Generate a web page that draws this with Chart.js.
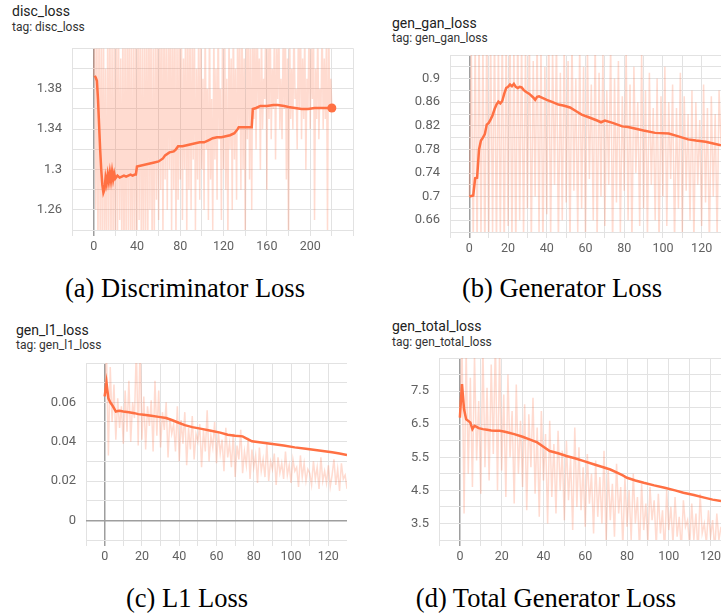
<!DOCTYPE html>
<html>
<head>
<meta charset="utf-8">
<script src="https://cdn.jsdelivr.net/npm/chart.js@4.4.1/dist/chart.umd.min.js"></script>
<style>
  body { margin: 0; width: 721px; height: 613px; background: #fff; position: relative; overflow: hidden; font-family: Roboto, sans-serif; }
  .title { position: absolute; font-size: 14px; line-height: 16px; color: #212121; white-space: nowrap; }
  .tag { position: absolute; font-size: 12px; line-height: 14px; color: #333; white-space: nowrap; }
  .caption { position: absolute; width: 400px; text-align: center; font-family: 'Liberation Serif', serif; font-size: 26.5px; line-height: 30px; color: #000; white-space: nowrap; }
  canvas { position: absolute; }
</style>
</head>
<body>
<div class="title" style="left:12px;top:3px">disc_loss</div>
<div class="tag" style="left:12px;top:20px">tag: disc_loss</div>
<canvas id="discChart" width="346" height="216" style="left:12px;top:44px"></canvas>
<div class="caption" style="left:-15px;top:273px">(a) Discriminator Loss</div>

<div class="title" style="left:392px;top:15px">gen_gan_loss</div>
<div class="tag" style="left:392px;top:31px">tag: gen_gan_loss</div>
<canvas id="ganChart" width="331" height="207" style="left:390px;top:55px"></canvas>
<div class="caption" style="left:362px;top:273px">(b) Generator Loss</div>

<div class="title" style="left:16px;top:322px">gen_l1_loss</div>
<div class="tag" style="left:16px;top:338px">tag: gen_l1_loss</div>
<canvas id="l1Chart" width="321" height="207" style="left:26px;top:363px"></canvas>
<div class="caption" style="left:-13px;top:583px">(c) L1 Loss</div>

<div class="title" style="left:392px;top:318px">gen_total_loss</div>
<div class="tag" style="left:392px;top:335px">tag: gen_total_loss</div>
<canvas id="totalChart" width="342" height="212" style="left:379px;top:358px"></canvas>
<div class="caption" style="left:346px;top:583px">(d) Total Generator Loss</div>

<script>
// raw values are logged once per step, starting at step 0
const discRawValues = [
  1.392, 1.45, 1.26, 1.44, 1.21, 1.46, 1.23, 1.43, 1.20, 1.47,
  1.22, 1.40, 1.19, 1.45, 1.24, 1.46, 1.21, 1.43, 1.22, 1.44,
  1.20, 1.47, 1.23, 1.45, 1.25, 1.41, 1.21, 1.46, 1.19, 1.44,
  1.22, 1.45, 1.24, 1.48, 1.21, 1.43, 1.20, 1.46, 1.23, 1.44,
  1.21, 1.47, 1.25, 1.45, 1.22, 1.43, 1.20, 1.46, 1.24, 1.44,
  1.22, 1.48, 1.26, 1.45, 1.21, 1.42, 1.23, 1.46, 1.27, 1.44,
  1.25, 1.47, 1.28, 1.45, 1.23, 1.46, 1.29, 1.43, 1.26, 1.45,
  1.30, 1.47, 1.24, 1.44, 1.28, 1.46, 1.22, 1.43, 1.27, 1.45,
  1.29, 1.46, 1.25, 1.41, 1.30, 1.47, 1.23, 1.44, 1.28, 1.45,
  1.26, 1.43, 1.31, 1.46, 1.24, 1.40, 1.29, 1.45, 1.27, 1.44,
  1.30, 1.39, 1.26, 1.45, 1.32, 1.38, 1.25, 1.46, 1.29, 1.37,
  1.24, 1.44, 1.31, 1.40, 1.27, 1.46, 1.33, 1.38, 1.25, 1.43,
  1.30, 1.45, 1.28, 1.39, 1.22, 1.44, 1.32, 1.41, 1.26, 1.46,
  1.31, 1.40, 1.27, 1.45, 1.34, 1.43, 1.28, 1.46, 1.30, 1.41,
  1.23, 1.44, 1.33, 1.47, 1.29, 1.42, 1.26, 1.45, 1.35, 1.43,
  1.32, 1.46, 1.36, 1.41, 1.30, 1.44, 1.34, 1.39, 1.37, 1.45,
  1.28, 1.43, 1.35, 1.46, 1.33, 1.40, 1.36, 1.44, 1.31, 1.42,
  1.37, 1.45, 1.34, 1.39, 1.33, 1.43, 1.36, 1.46, 1.29, 1.41,
  1.22, 1.44, 1.35, 1.40, 1.34, 1.45, 1.37, 1.38, 1.32, 1.43,
  1.36, 1.46, 1.33, 1.41, 1.35, 1.44, 1.30, 1.39, 1.36, 1.45,
  1.34, 1.42, 1.37, 1.46, 1.25, 1.40, 1.35, 1.44, 1.33, 1.38,
  1.36, 1.45, 1.34, 1.41, 1.35, 1.43, 1.24, 1.46, 1.36, 1.39,
  1.361
];
const discSmoothSteps = [
  1, 2, 3, 4, 5, 6, 7, 8, 9, 10, 11, 12, 13, 14, 15, 16, 17, 18, 19, 20,
  22, 24, 26, 28, 30, 32, 34, 36, 38, 39, 40,
  44, 48, 52, 56, 60, 64, 66, 70, 74, 76, 78,
  82, 86, 90, 94, 98, 102, 106, 110, 114, 118, 122, 126, 130,
  133, 134, 140, 146, 147,
  150, 154, 160, 166, 170, 176, 180, 186, 192, 198, 204, 210, 216, 220
];
const discSmoothValues = [
  1.393, 1.391, 1.388, 1.37, 1.345, 1.32, 1.30, 1.285, 1.277, 1.28,
  1.292, 1.286, 1.295, 1.288, 1.297, 1.289, 1.298, 1.29, 1.296, 1.291,
  1.294, 1.292, 1.293, 1.294, 1.293, 1.294, 1.295, 1.294, 1.295, 1.295, 1.303,
  1.304, 1.305, 1.306, 1.307, 1.308, 1.311, 1.314, 1.317, 1.318, 1.32, 1.323,
  1.323, 1.324, 1.325, 1.326, 1.327, 1.327, 1.329, 1.331, 1.332, 1.332, 1.333, 1.334, 1.336,
  1.34, 1.342, 1.342, 1.342, 1.36,
  1.361, 1.363, 1.363, 1.364, 1.364, 1.363, 1.362, 1.361, 1.36, 1.36, 1.361, 1.361, 1.361, 1.361
];

const ganRawValues = [
  0.70, 0.95, 0.62, 0.97, 0.61, 0.98, 0.63, 0.96, 0.60, 0.99,
  0.62, 0.97, 0.64, 0.98, 0.61, 0.96, 0.63, 0.99, 0.60, 0.97,
  0.65, 0.98, 0.62, 0.96, 0.61, 0.99, 0.66, 0.97, 0.63, 0.95,
  0.68, 0.98, 0.62, 0.93, 0.70, 0.97, 0.64, 0.96, 0.61, 0.92,
  0.67, 0.98, 0.63, 0.95, 0.72, 0.97, 0.62, 0.91, 0.66, 0.96,
  0.69, 0.93, 0.61, 0.97, 0.71, 0.90, 0.64, 0.96, 0.68, 0.92,
  0.63, 0.95, 0.73, 0.89, 0.66, 0.97, 0.62, 0.91, 0.70, 0.94,
  0.65, 0.88, 0.72, 0.96, 0.61, 0.90, 0.69, 0.93, 0.64, 0.87,
  0.71, 0.95, 0.66, 0.89, 0.62, 0.92, 0.74, 0.86, 0.65, 0.94,
  0.68, 0.88, 0.63, 0.91, 0.72, 0.85, 0.66, 0.90, 0.61, 0.87,
  0.70, 0.92, 0.65, 0.86, 0.73, 0.89, 0.62, 0.85, 0.68, 0.91,
  0.64, 0.87, 0.71, 0.84, 0.66, 0.88, 0.62, 0.86, 0.72, 0.83,
  0.65, 0.89, 0.69, 0.85, 0.61, 0.87, 0.70, 0.84, 0.63, 0.88,
  0.79
];
const ganSmoothSteps = [
  0, 1, 2, 3, 4, 5, 6, 7, 8, 9, 10, 11, 12, 13, 14, 15, 16, 17, 18, 19,
  20, 21, 22, 23, 24, 25, 26, 27, 28, 29,
  31, 33, 34, 35, 36, 38, 40,
  43, 46, 49, 52, 55, 58,
  62, 66, 68, 70, 74, 79,
  82, 86, 90, 96, 103, 108, 113, 117, 122, 126, 130
];
const ganSmoothValues = [
  0.700, 0.701, 0.702, 0.731, 0.732, 0.780, 0.795, 0.800, 0.806, 0.822,
  0.825, 0.831, 0.838, 0.848, 0.856, 0.861, 0.858, 0.862, 0.874, 0.884,
  0.886, 0.890, 0.887, 0.891, 0.886, 0.884, 0.886, 0.885, 0.881, 0.878,
  0.874, 0.868, 0.864, 0.869, 0.870, 0.867, 0.864,
  0.860, 0.856, 0.854, 0.851, 0.845, 0.839,
  0.834, 0.829, 0.826, 0.829, 0.825, 0.819,
  0.818, 0.815, 0.812, 0.808, 0.807, 0.802, 0.797, 0.795, 0.793, 0.790, 0.787
];

const l1RawValues = [
  0.063, 0.085, 0.033, 0.078, 0.050, 0.069, 0.041, 0.062, 0.047, 0.058,
  0.039, 0.066, 0.045, 0.071, 0.040, 0.060, 0.052, 0.088, 0.038, 0.090,
  0.041, 0.063, 0.036, 0.058, 0.048, 0.061, 0.035, 0.071, 0.043, 0.066,
  0.037, 0.055, 0.046, 0.060, 0.032, 0.052, 0.044, 0.049, 0.035, 0.058,
  0.030, 0.051, 0.039, 0.055, 0.028, 0.047, 0.036, 0.053, 0.031, 0.044,
  0.040, 0.049, 0.027, 0.046, 0.035, 0.056, 0.030, 0.043, 0.037, 0.050,
  0.029, 0.045, 0.034, 0.041, 0.025, 0.047, 0.032, 0.039, 0.027, 0.044,
  0.022, 0.038, 0.031, 0.046, 0.024, 0.035, 0.028, 0.042, 0.021, 0.036,
  0.027, 0.033, 0.019, 0.037, 0.025, 0.031, 0.022, 0.039, 0.020, 0.030,
  0.026, 0.034, 0.018, 0.032, 0.024, 0.029, 0.021, 0.035, 0.023, 0.028,
  0.019, 0.031, 0.025, 0.027, 0.017, 0.033, 0.022, 0.029, 0.020, 0.026,
  0.024, 0.018, 0.030, 0.021, 0.027, 0.016, 0.032, 0.020, 0.025, 0.019,
  0.028, 0.017, 0.023, 0.031, 0.018, 0.026, 0.015, 0.029, 0.021, 0.023,
  0.016
];
const l1SmoothSteps = [
  0, 1, 2, 3, 4, 5, 6, 7, 8,
  10, 13, 16, 18, 21, 25, 29, 33, 36, 40,
  43, 47, 52, 57, 62, 66, 70, 74, 77, 79,
  84, 90, 96, 102, 109, 116, 122, 126, 130
];
const l1SmoothValues = [
  0.063, 0.070, 0.062, 0.060, 0.0587, 0.057, 0.0553, 0.0556, 0.0557,
  0.0553, 0.055, 0.0545, 0.054, 0.0537, 0.0532, 0.0526, 0.052, 0.051, 0.0495,
  0.0484, 0.0474, 0.0465, 0.0456, 0.0446, 0.0435, 0.043, 0.0427, 0.0412, 0.0402,
  0.0396, 0.0388, 0.038, 0.0371, 0.0363, 0.0354, 0.0346, 0.034, 0.0332
];

const totalRawValues = [
  6.7, 9.0, 3.8, 8.8, 5.0, 7.9, 4.6, 8.6, 5.4, 7.2,
  4.4, 8.9, 5.2, 7.6, 4.8, 8.3, 5.6, 9.1, 4.5, 8.7,
  5.1, 7.4, 4.3, 8.0, 5.5, 6.9, 4.1, 7.7, 5.0, 6.6,
  4.6, 7.1, 3.9, 6.8, 5.2, 7.3, 4.4, 6.4, 3.7, 6.9,
  4.8, 6.2, 3.5, 6.6, 4.3, 5.9, 3.8, 6.3, 4.5, 5.7,
  3.6, 6.0, 4.2, 5.5, 3.3, 6.4, 4.0, 5.8, 3.9, 5.2,
  3.4, 5.6, 4.1, 5.0, 3.2, 5.4, 3.7, 4.9, 3.5, 5.7,
  2.9, 5.1, 3.6, 4.7, 3.1, 5.3, 3.8, 4.6, 2.8, 4.9,
  3.4, 4.5, 3.0, 5.0, 3.5, 4.3, 2.7, 4.7, 3.3, 4.1,
  2.9, 4.6, 3.6, 4.2, 2.8, 4.4, 3.2, 3.9, 2.6, 4.5,
  3.3, 4.0, 2.9, 4.3, 3.1, 3.7, 2.7, 4.2, 3.4, 3.6,
  2.8, 4.1, 3.0, 3.8, 2.6, 4.4, 3.2, 3.5, 2.9, 3.9,
  3.1, 3.6, 2.7, 3.8, 3.0, 3.4
];
const totalSmoothSteps = [
  0, 1, 2, 3, 4, 5, 6, 7, 8, 9,
  11, 13, 15, 17, 19, 21, 23, 26, 30,
  33, 37, 40, 43, 47, 51, 55, 59, 64, 69,
  72, 75, 78, 80, 84, 88, 93, 98, 103, 107,
  112, 117, 121, 125
];
const totalSmoothValues = [
  6.7, 7.71, 6.95, 6.65, 6.6, 6.55, 6.35, 6.45, 6.42, 6.38,
  6.35, 6.33, 6.31, 6.3, 6.3, 6.28, 6.25, 6.2, 6.12,
  6.05, 5.95, 5.82, 5.69, 5.62, 5.54, 5.47, 5.39, 5.29, 5.19,
  5.13, 5.04, 4.95, 4.88, 4.8, 4.73, 4.65, 4.58, 4.5, 4.43,
  4.36, 4.28, 4.22, 4.18
];

const ORANGE = '#ff7043';
const RAW = 'rgba(255,112,67,0.25)';
const GRID = '#e2e2e2';
const ZERO = '#9e9e9e';
const TICK = '#616161';

function points(steps, values) {
  return values.map((v, i) => ({ x: steps[i], y: v }));
}
function rawPoints(values) {
  return values.map((v, i) => ({ x: i, y: v }));
}
function fmt(v) {
  return String(Number(v.toFixed(4)));
}
const isZero = c => c.tick && Math.abs(c.tick.value) < 1e-9;

function drawPanel(id, p) {
  const smooth = points(p.steps, p.values);
  const last = smooth.length - 1;
  new Chart(document.getElementById(id), {
    type: 'line',
    data: {
      datasets: [
        {
          data: smooth,
          borderColor: ORANGE,
          borderWidth: 2.5,
          tension: 0,
          pointRadius: c => (p.endDot && c.dataIndex === last) ? 4.5 : 0,
          pointBackgroundColor: ORANGE,
          pointBorderWidth: 0
        },
        {
          data: rawPoints(p.raw),
          borderColor: RAW,
          borderWidth: 1.5,
          tension: 0,
          pointRadius: 0,
          clip: 0
        }
      ]
    },
    options: {
      responsive: false,
      animation: false,
      events: [],
      layout: { padding: 0 },
      plugins: { legend: { display: false }, tooltip: { enabled: false } },
      scales: {
        x: {
          type: 'linear',
          min: p.xMin,
          max: p.xMax,
          afterFit: s => { s.height = 30; s.paddingLeft = 0; s.paddingRight = 0; },
          border: { display: false },
          grid: {
            color: c => isZero(c) ? ZERO : GRID,
            lineWidth: c => isZero(c) ? 1.5 : 1,
            tickLength: 6
          },
          ticks: {
            stepSize: p.xStep,
            includeBounds: p.xBounds !== false,
            autoSkip: false,
            maxRotation: 0,
            padding: 3,
            color: TICK,
            font: { family: 'Roboto', size: 12.5 },
            callback: v => p.xLabel(v) ? String(v) : ''
          }
        },
        y: {
          min: p.yMin,
          max: p.yMax,
          afterFit: s => { s.width = 60; s.paddingTop = 0; s.paddingBottom = 0; },
          border: { display: false },
          grid: {
            color: c => isZero(c) ? ZERO : GRID,
            lineWidth: c => isZero(c) ? 1.5 : 1,
            drawTicks: false
          },
          ticks: {
            stepSize: p.yStep,
            autoSkip: false,
            padding: 10,
            color: TICK,
            font: { family: 'Roboto', size: 13 },
            callback: v => p.yLabel(v) ? fmt(v) : ''
          }
        }
      }
    }
  });
}

drawPanel('discChart', {
  raw: discRawValues, steps: discSmoothSteps, values: discSmoothValues, endDot: true,
  xMin: -20, xMax: 240, xStep: 20, xLabel: v => v % 40 === 0 && v >= 0 && v < 240,
  yMin: 1.24, yMax: 1.42, yStep: 0.02, yLabel: v => { const r = Math.round(v * 100); return r % 4 === 2 && r < 142; }
});
drawPanel('ganChart', {
  raw: ganRawValues, steps: ganSmoothSteps, values: ganSmoothValues,
  xMin: -10, xMax: 130, xStep: 10, xLabel: v => v % 20 === 0 && v >= 0 && v <= 120,
  yMin: 0.64, yMax: 0.94, yStep: 0.02, yLabel: v => { const r = Math.round(v * 100); return r % 4 === 2 && r < 94; }
});
drawPanel('l1Chart', {
  raw: l1RawValues, steps: l1SmoothSteps, values: l1SmoothValues,
  xMin: -10, xMax: 130, xStep: 10, xLabel: v => v % 20 === 0 && v >= 0 && v <= 120,
  yMin: -0.01, yMax: 0.08, yStep: 0.01, yLabel: v => { const r = Math.round(v * 100); return r % 2 === 0 && r >= 0 && r < 8; }
});
// the last window edge (125) is not on the 10-step grid, so keep it off the tick list
drawPanel('totalChart', {
  raw: totalRawValues, steps: totalSmoothSteps, values: totalSmoothValues,
  xMin: -10, xMax: 125, xStep: 10, xBounds: false, xLabel: v => v % 20 === 0 && v >= 0 && v <= 120,
  yMin: 3, yMax: 8.5, yStep: 0.5, yLabel: v => { const r = Math.round(v * 10); return r % 10 === 5 && r < 85; }
});
</script>
</body>
</html>
